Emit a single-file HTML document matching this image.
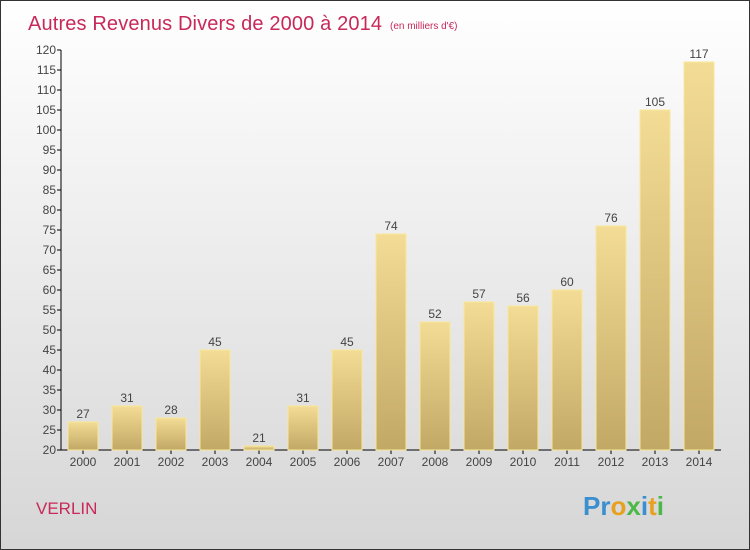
<!DOCTYPE html>
<html><head><meta charset="utf-8"><style>
body{margin:0;width:750px;height:550px;overflow:hidden;font-family:"Liberation Sans",sans-serif}
#c{position:absolute;left:0;top:0;width:748px;height:548px;border:1px solid #333;background:linear-gradient(#ffffff,#d6d6d6)}
</style></head><body>
<div id="c">
<svg width="750" height="550" style="position:absolute;left:-1px;top:-1px">
<defs><linearGradient id="g" x1="0" y1="0" x2="0" y2="1"><stop offset="0" stop-color="#f3dc95"/><stop offset="1" stop-color="#c2a865"/></linearGradient></defs>
<text x="28" y="30" font-size="20" fill="#c8285a" textLength="354">Autres Revenus Divers de 2000 à 2014</text>
<text x="390" y="29" font-size="10" fill="#c8285a">(en milliers d'€)</text>
<g id="axes"></g><g id="bars"></g>
<text x="36" y="514" font-size="17" fill="#c8285a">VERLIN</text>
<text x="583" y="515" font-size="26" font-weight="bold"><tspan fill="#3a8fd0">Pr</tspan><tspan fill="#e8a020">o</tspan><tspan fill="#4cb848">x</tspan><tspan fill="#3a8fd0">i</tspan><tspan fill="#e8a020">t</tspan><tspan fill="#4cb848">i</tspan></text>
</svg></div>
<script>
const years=["2000","2001","2002","2003","2004","2005","2006","2007","2008","2009","2010","2011","2012","2013","2014"];
const values=[27,31,28,45,21,31,45,74,52,57,56,60,76,105,117];
const yTicks=[20,25,30,35,40,45,50,55,60,65,70,75,80,85,90,95,100,105,110,115,120];
const NS="http://www.w3.org/2000/svg";
const y=v=>450-(v-20)*4, x=i=>61+i*44;
const ax=document.getElementById('axes'), bg=document.getElementById('bars');
function mk(t,a,p){const e=document.createElementNS(NS,t);for(const k in a)e.setAttribute(k,a[k]);p.appendChild(e);return e;}
let l=mk('line',{x1:61,y1:50,x2:61,y2:450,stroke:'#000'},ax);


l=mk('line',{x1:61,y1:450,x2:721,y2:450,stroke:'#000'},ax);


yTicks.forEach(v=>{
 mk('line',{x1:57,y1:y(v),x2:61,y2:y(v),stroke:'#000'},ax);
 const t=mk('text',{x:56,y:y(v)+4,'font-size':12,'text-anchor':'end',fill:'#444'},ax);t.textContent=v;
 
 
});
years.forEach((yr,i)=>{
 const cx=x(i)+22;
 mk('line',{x1:cx,y1:450,x2:cx,y2:454,stroke:'#000'},ax);
 const t=mk('text',{x:cx,y:466,'font-size':12,'text-anchor':'middle',fill:'#444'},ax);t.textContent=yr;
 
 
 const b=mk('rect',{x:x(i)+7,y:y(values[i]),width:30,height:450-y(values[i]),fill:'url(#g)',stroke:'#f8e79a','stroke-width':1},bg);
 
 
 const v=mk('text',{x:cx,y:y(values[i])-4,'font-size':12,'text-anchor':'middle',fill:'#444'},bg);v.textContent=values[i];
 
 
});
</script>
</body></html>
